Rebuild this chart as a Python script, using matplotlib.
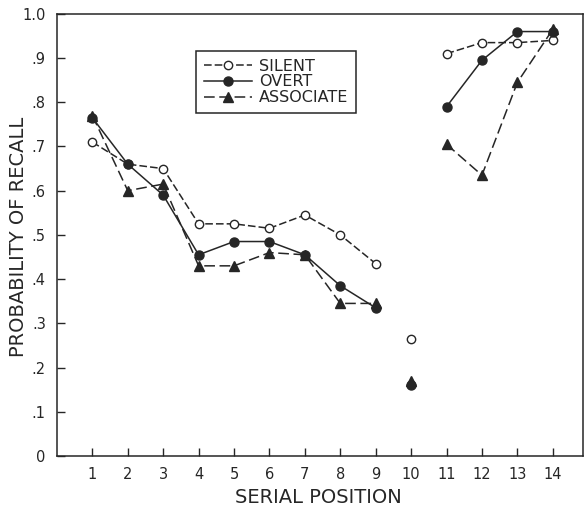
# -*- coding: utf-8 -*-
# curva de posicion serial: silent / overt / associate

import numpy as np
import matplotlib.pyplot as plt

# =========================
# DATOS
# =========================
posiciones = [1, 2, 3, 4, 5, 6, 7, 8, 9, 10, 11, 12, 13, 14]
silent = [0.71, 0.66, 0.65, 0.525, 0.525, 0.515, 0.545, 0.50, 0.435, 0.265, 0.91, 0.935, 0.935, 0.94]
overt = [0.765, 0.66, 0.59, 0.455, 0.485, 0.485, 0.455, 0.385, 0.335, 0.16, 0.79, 0.895, 0.96, 0.96]
associate = [0.77, 0.60, 0.615, 0.43, 0.43, 0.46, 0.455, 0.345, 0.345, 0.17, 0.705, 0.635, 0.845, 0.965]

etiquetas_y = ["0", ".1", ".2", ".3", ".4", ".5", ".6", ".7", ".8", ".9", "1.0"]
etiquetas_x = [str(p) for p in posiciones]

TINTA = "#262626"
plt.rcParams["font.family"] = "DejaVu Sans"

fig = plt.figure(figsize=(5.87, 5.14), dpi=100)
ax = fig.add_axes([0.097, 0.113, 0.896, 0.860])

x = np.array(posiciones)


def dibujar(valores, ls, marker, mfc, ms, label):
    y = np.array(valores)
    # la posicion 10 va suelta, sin linea
    tramos = [slice(0, 9), slice(9, 10), slice(10, 14)]
    for i, t in enumerate(tramos):
        ax.plot(x[t], y[t], color=TINTA, linestyle=ls, linewidth=1.1,
                marker=marker, markersize=ms, markerfacecolor=mfc,
                markeredgecolor=TINTA, markeredgewidth=1.0,
                label=label if i == 0 else None)


dibujar(silent, (0, (5, 2)), "o", "white", 6, "SILENT")
dibujar(overt, "-", "o", TINTA, 6.5, "OVERT")
dibujar(associate, (0, (7, 3)), "^", TINTA, 7, "ASSOCIATE")

ax.set_xlim(0, 14.85)
ax.set_ylim(0, 1.0)
ax.set_xticks(posiciones)
ax.set_xticklabels(etiquetas_x)
ax.set_yticks(np.arange(0, 1.01, 0.1))
ax.set_yticklabels(etiquetas_y)
ax.tick_params(direction="in", length=6, width=1.0, colors=TINTA,
               labelsize=10.5, pad=8)

for s in ax.spines.values():
    s.set_color(TINTA)
    s.set_linewidth(1.1)

# etiquetas de ejes colocadas a mano para que no se corten
fig.text(0.543, 0.033, "SERIAL POSITION", fontsize=14, color=TINTA,
         ha="center", va="center")
fig.text(0.031, 0.54, "PROBABILITY OF RECALL", fontsize=14, color=TINTA,
         ha="center", va="center", rotation=90)

leg = ax.legend(loc="upper left", bbox_to_anchor=(0.25, 0.935), fontsize=11.5,
                handlelength=3.0, handletextpad=0.4, labelspacing=0.05,
                borderpad=0.5, fancybox=False, framealpha=1)
leg.get_frame().set_edgecolor(TINTA)
leg.get_frame().set_linewidth(1.1)
for t in leg.get_texts():
    t.set_color(TINTA)

fig.savefig("out.png", dpi=100)
